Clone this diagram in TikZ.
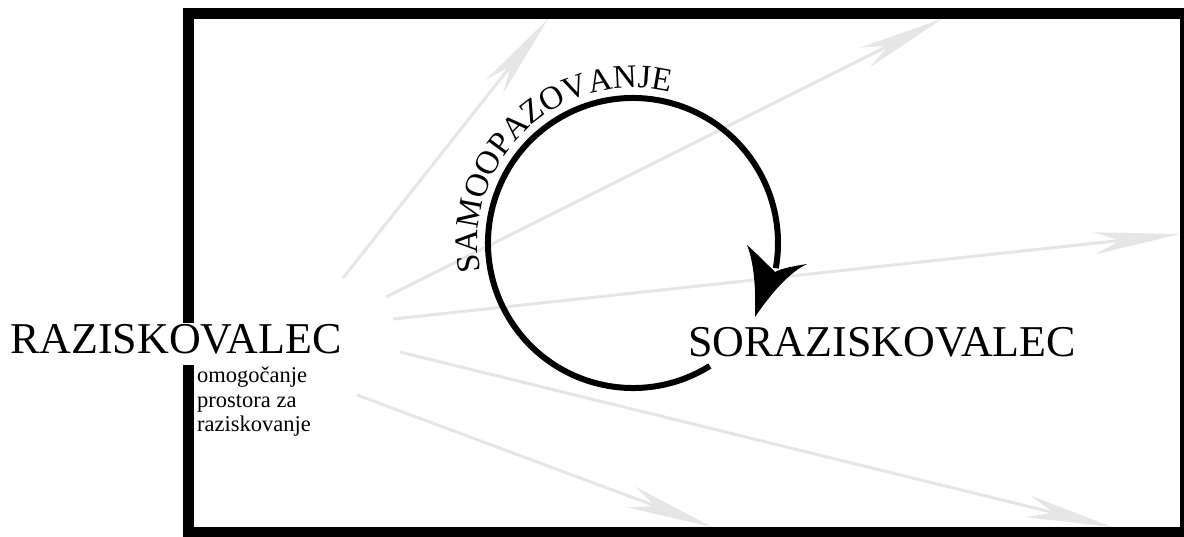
\documentclass[tikz,border=0pt]{standalone}
\usepackage{fontspec}
\setmainfont{Liberation Serif}
\usetikzlibrary{arrows.meta,decorations.text,calc}
\definecolor{ghost}{HTML}{E6E6E6}
\newcommand\arcfont{\fontsize{33pt}{33pt}\selectfont}
\tikzset{
  ghostarrow/.style={draw=ghost, line width=3pt, -{Stealth[length=86pt,width=22pt,inset=26pt]}},
  bigword/.style={font=\fontsize{44}{44}\selectfont, inner sep=0pt, anchor=base west},
  noteword/.style={font=\fontsize{22.5}{25}\selectfont, inner sep=0pt, anchor=base west},
  frameline/.style={line width=11pt, draw=black},
  cycleline/.style={line width=6pt, draw=black},
}
\begin{document}
\begin{tikzpicture}[x=1pt,y=1pt]
\useasboundingbox (0,0) rectangle (1184,-537);
\clip (0,0) rectangle (1184,-537);
\fill[white] (0,0) rectangle (1184,-537);
% grey arrows
\coordinate (t1) at (343,-278); \coordinate (h1) at (548,-19);
\coordinate (t2) at (386,-297); \coordinate (h2) at (942,-19);
\coordinate (t3) at (393,-319); \coordinate (h3) at (1180,-234);
\coordinate (t4) at (400,-352); \coordinate (h4) at (1112,-527);
\coordinate (t5) at (357,-395); \coordinate (h5) at (712,-527);
\draw[ghostarrow] (t1) -- (h1);
\draw[ghostarrow] (t2) -- (h2);
\draw[ghostarrow] (t3) -- (h3);
\draw[ghostarrow] (t4) -- (h4);
\draw[ghostarrow] (t5) -- (h5);
% frame
\draw[frameline] (188.5,-13.7) rectangle (1185.5,-532.5);
% cycle
\coordinate (C) at (633,-243);
\draw[cycleline] ($(C)+(-58:145)$) arc[start angle=-58, end angle=-370, radius=145];
\fill[black] (747,-245) .. controls (754,-262) and (756,-290) .. (755,-317)
  .. controls (772,-292) and (790,-272) .. (807,-264)
  .. controls (795,-266) and (782,-268) .. (775,-272)
  .. controls (765,-262) and (755,-252) .. cycle;
\begin{scope}[font=\arcfont]
\path[decorate, decoration={text along path, text align=center,
  text={|\arcfont|SAMOOPAZOVANJE}}]
  ($(C)+(208:155)$) arc[start angle=208, end angle=59, radius=155];
\end{scope}
% labels
\node[bigword, fill=white, text height=31pt, text depth=11pt] (R) at (10,-354) {RAZISKOVALEC};
\node[bigword] (S) at (688,-357) {SORAZISKOVALEC};
\node[noteword] (N) at (197,-382) {\begin{tabular}[t]{@{}l@{}}omogočanje\\prostora za\\raziskovanje\end{tabular}};
\end{tikzpicture}
\end{document}
